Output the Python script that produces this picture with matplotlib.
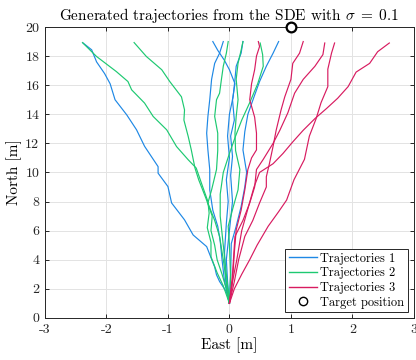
import matplotlib
matplotlib.use("Agg")
import matplotlib.pyplot as plt
from matplotlib.lines import Line2D

plt.rcParams['font.family'] = ['cmr10', 'DejaVu Serif']
plt.rcParams['mathtext.fontset'] = 'cm'
plt.rcParams['axes.unicode_minus'] = False
plt.rcParams['axes.formatter.use_mathtext'] = True

# Trajectories group 1 (blue)
blue_x = [
    [0, -0.05, -0.16, -0.21, -0.24, -0.37, -0.59, -0.73, -0.94, -1.0, -1.16, -1.16, -1.38, -1.51, -1.67, -1.86, -1.94, -2.03, -2.16, -2.24, -2.38],
    [0, -0.03, -0.05, 0.0, 0.05, 0.02, 0.05, 0.02, 0.08, 0.05, 0.09, 0.0, -0.08, -0.19, -0.27],
    [0, -0.08, -0.12, -0.15, -0.19, -0.27, -0.32, -0.32, -0.35, -0.37, -0.35, -0.32, -0.29, -0.24, -0.16, -0.10],
    [0, -0.06, -0.08, -0.05, -0.02, -0.05, 0.0, -0.03, 0.0, 0.06, 0.09, 0.11, 0.19, 0.22],
    [0, 0.02, 0.03, 0.11, 0.19, 0.25, 0.28, 0.22, 0.25, 0.30, 0.40, 0.49, 0.60, 0.71, 0.80],
]
blue_y = [
    [1, 1.8, 2.5, 2.96, 3.5, 4.9, 5.7, 6.74, 7.9, 9.03, 9.95, 10.4, 11.8, 12.93, 13.96, 15.0, 16.1, 16.8, 17.6, 18.43, 18.9],
    [1, 2.5, 4.0, 6.0, 8.0, 9.8, 11.1, 12.5, 13.6, 15.0, 16.1, 17.06, 17.7, 18.4, 19.0],
    [1, 2.5, 4.0, 5.3, 6.3, 7.4, 8.8, 10.2, 11.55, 12.7, 13.85, 15.0, 16.4, 17.5, 18.2, 19.0],
    [1, 2.5, 4.5, 6.5, 8.0, 9.5, 11.0, 12.5, 14.0, 15.2, 16.4, 17.3, 18.2, 19.0],
    [1, 3.0, 5.1, 6.3, 7.65, 9.0, 10.0, 11.55, 12.8, 14.0, 15.2, 16.25, 17.3, 18.2, 19.0],
]

# Trajectories group 2 (green)
green_x = [
    [0, -0.1, -0.2, -0.3, -0.3, -0.36, -0.33, -0.35, -0.45, -0.54, -0.67, -0.86, -1.02, -1.24, -1.38, -1.59, -1.65, -1.84, -2.16, -2.39],
    [0, -0.05, -0.12, -0.2, -0.24, -0.3, -0.28, -0.38, -0.5, -0.56, -0.62, -0.67, -0.74, -0.73, -0.78, -0.97, -1.10, -1.35, -1.55],
    [0, -0.05, -0.1, -0.16, -0.24, -0.35, -0.29, -0.21, -0.19, -0.19, -0.24, -0.21, -0.16, -0.13, -0.10, -0.05, -0.02],
    [0, 0.02, 0.0, -0.02, 0.06, 0.14, 0.17, 0.10, 0.09, 0.11, 0.14, 0.11, 0.14, 0.19, 0.22],
    [0, -0.05, -0.1, -0.15, -0.15, -0.1, 0.0, 0.1, 0.2, 0.33, 0.46, 0.55, 0.54, 0.50],
]
green_y = [
    [1, 2.2, 3.1, 4.2, 5.2, 6.2, 7.2, 8.0, 9.2, 10.3, 10.87, 11.78, 12.93, 13.85, 14.77, 15.68, 16.25, 16.94, 17.97, 18.93],
    [1, 2.0, 3.0, 4.0, 5.0, 6.0, 7.0, 8.2, 9.5, 10.3, 11.55, 12.47, 13.6, 14.3, 15.2, 16.25, 17.06, 17.97, 18.93],
    [1, 2.5, 4.0, 5.6, 6.7, 7.9, 8.8, 10.2, 11.5, 12.7, 13.85, 15.0, 15.45, 16.4, 17.3, 18.2, 19.0],
    [1, 3.0, 5.0, 6.3, 7.6, 8.8, 10.2, 11.5, 12.7, 13.85, 15.0, 16.4, 17.5, 18.4, 19.0],
    [1, 3.0, 5.0, 7.0, 8.5, 10.0, 11.3, 12.5, 13.6, 14.8, 16.1, 17.3, 18.1, 18.9],
]

# Trajectories group 3 (magenta)
magenta_x = [
    [0, 0.05, 0.08, 0.11, 0.19, 0.25, 0.30, 0.36, 0.44, 0.44, 0.41, 0.33, 0.36, 0.41, 0.44, 0.49, 0.47],
    [0, 0.08, 0.15, 0.25, 0.38, 0.49, 0.60, 0.60, 0.65, 0.71, 0.76, 0.84, 0.90, 1.0, 1.03, 1.14, 1.20],
    [0, 0.05, 0.09, 0.22, 0.33, 0.41, 0.44, 0.55, 0.71, 0.82, 0.95, 1.06, 1.20, 1.39, 1.52, 1.55],
    [0, 0.08, 0.20, 0.33, 0.45, 0.63, 0.80, 0.93, 1.05, 1.22, 1.30, 1.41, 1.49, 1.60, 1.60, 1.66, 1.71],
    [0, 0.05, 0.12, 0.20, 0.30, 0.40, 0.49, 0.71, 0.87, 1.03, 1.20, 1.39, 1.58, 1.76, 1.93, 2.06, 2.28, 2.41, 2.60],
]
magenta_y = [
    [1, 2.5, 4.5, 6.05, 7.4, 8.8, 10.2, 11.0, 11.55, 12.7, 13.8, 15.0, 16.1, 17.06, 18.0, 18.66, 19.0],
    [1, 2.5, 4.0, 5.6, 6.7, 7.9, 9.0, 9.7, 10.6, 11.8, 12.9, 14.3, 15.2, 16.4, 17.5, 18.2, 19.0],
    [1, 3.0, 5.6, 6.7, 7.9, 9.0, 10.2, 10.9, 12.0, 12.9, 14.1, 15.45, 16.4, 17.3, 18.1, 18.9],
    [1, 2.0, 3.0, 4.0, 5.0, 6.3, 7.3, 8.1, 9.5, 10.9, 12.5, 13.7, 14.8, 15.9, 17.1, 18.2, 18.9],
    [1, 2.5, 4.0, 6.0, 7.5, 9.0, 10.0, 10.6, 11.3, 12.1, 12.9, 13.7, 14.4, 15.1, 15.9, 16.9, 17.5, 18.3, 18.9],
]

target_x = [1.0]
target_y = [20.0]

xticks = [-3, -2, -1, 0, 1, 2, 3]
yticks = [0, 2, 4, 6, 8, 10, 12, 14, 16, 18, 20]

colors = ['#1E88E5', '#1DC971', '#D81B60']
labels = ['Trajectories 1', 'Trajectories 2', 'Trajectories 3']

fig = plt.figure(figsize=(4.16, 3.6), dpi=100)
ax = fig.add_axes([0.108, 0.117, 0.887, 0.808])

handles = []
for gx, gy, c, lab in zip([blue_x, green_x, magenta_x], [blue_y, green_y, magenta_y], colors, labels):
    for i, (xs, ys) in enumerate(zip(gx, gy)):
        h, = ax.plot(xs, ys, color=c, lw=0.85)
        if i == 0:
            handles.append(Line2D([], [], color=c, lw=1.0, label=lab))

ax.plot(target_x, target_y, 'o', ms=7, mfc='white', mec='black', mew=1.6,
        clip_on=False, zorder=5)
handles.append(Line2D([], [], ls='none', marker='o', ms=6, mfc='white', mec='black',
                      mew=1.0, label='Target position'))

ax.set_xlim(-3, 3)
ax.set_ylim(0, 20)
ax.set_xticks(xticks)
ax.set_yticks(yticks)
ax.set_xticklabels([str(t) for t in xticks])
ax.set_yticklabels([str(t) for t in yticks])
ax.grid(True, color='#e3e3e3', lw=0.7)
ax.set_axisbelow(True)
for s in ax.spines.values():
    s.set_color('#262626')
    s.set_linewidth(0.7)
ax.tick_params(direction='in', length=3, width=0.7, colors='#262626', labelsize=10,
               top=True, right=True, pad=4)
ax.set_xlabel('East [m]', fontsize=11, labelpad=1)
ax.set_ylabel('North [m]', fontsize=11, labelpad=2)
ax.set_title(r'Generated trajectories from the SDE with $\sigma\;=\;0.1$', fontsize=11, pad=5)

leg = ax.legend(handles=handles, loc='lower right', fontsize=9, frameon=True, fancybox=False,
                edgecolor='#262626', framealpha=1, borderpad=0.3, labelspacing=0.2,
                handlelength=2.2, handletextpad=0.3, borderaxespad=0.45)
leg.get_frame().set_linewidth(0.7)

fig.savefig('out.png', dpi=100)
